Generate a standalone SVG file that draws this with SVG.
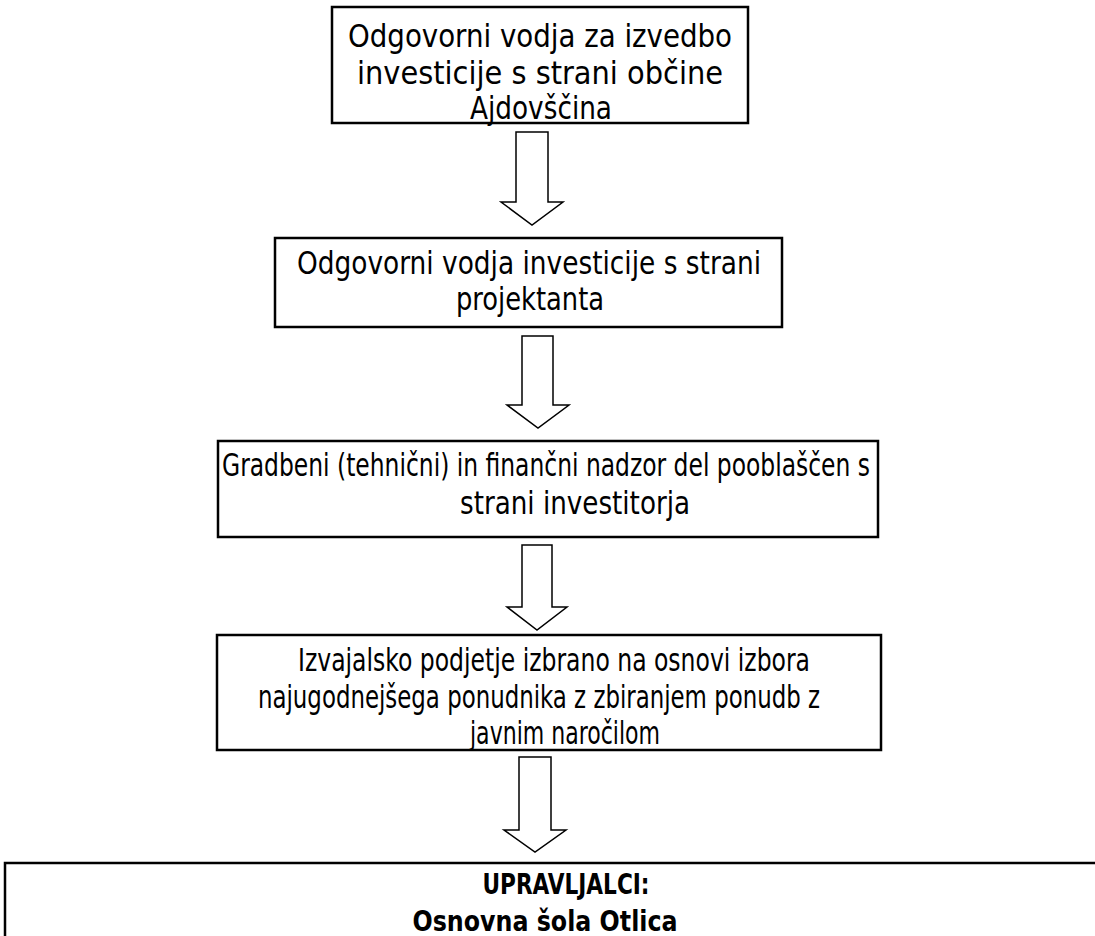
<svg xmlns="http://www.w3.org/2000/svg" width="1095" height="936" viewBox="0 0 1095 936">
<style>
.box{fill:#fff;stroke:#000;stroke-width:2.5}
.arr{fill:#fff;stroke:#000;stroke-width:1.5;stroke-linejoin:miter}
.t{font-family:"DejaVu Sans Condensed","DejaVu Sans",Tahoma,sans-serif;font-size:32px;fill:#000;text-anchor:middle}
.b{font-weight:bold;font-size:29px}
</style>
<rect width="1095" height="936" fill="#fff"/>
<g id="n1">
<rect class="box" x="332" y="7" width="416" height="116"/>
<text class="t" x="540" y="47" textLength="384" lengthAdjust="spacingAndGlyphs">Odgovorni vodja za izvedbo</text>
<text class="t" x="540" y="84" textLength="366" lengthAdjust="spacingAndGlyphs">investicije s strani občine</text>
<text class="t" x="541" y="119" textLength="142" lengthAdjust="spacingAndGlyphs">Ajdovščina</text>
</g>
<g id="n2">
<rect class="box" x="275" y="238" width="507" height="89"/>
<text class="t" x="529" y="274" textLength="464" lengthAdjust="spacingAndGlyphs">Odgovorni vodja investicije s strani</text>
<text class="t" x="530" y="310" textLength="148" lengthAdjust="spacingAndGlyphs">projektanta</text>
</g>
<g id="n3">
<rect class="box" x="218" y="441" width="660" height="96"/>
<text class="t" x="546" y="476" textLength="648" lengthAdjust="spacingAndGlyphs">Gradbeni (tehnični) in finančni nadzor del pooblaščen s</text>
<text class="t" x="575" y="514" textLength="230" lengthAdjust="spacingAndGlyphs">strani investitorja</text>
</g>
<g id="n4">
<rect class="box" x="217" y="635" width="664" height="115"/>
<text class="t" x="554" y="671" textLength="512" lengthAdjust="spacingAndGlyphs">Izvajalsko podjetje izbrano na osnovi izbora</text>
<text class="t" x="539" y="708" textLength="562" lengthAdjust="spacingAndGlyphs">najugodnejšega ponudnika z zbiranjem ponudb z</text>
<text class="t" x="565" y="744" textLength="190" lengthAdjust="spacingAndGlyphs">javnim naročilom</text>
</g>
<g id="n5">
<rect class="box" x="5" y="863" width="1100" height="100"/>
<text class="t b" x="566" y="894" textLength="167" lengthAdjust="spacingAndGlyphs">UPRAVLJALCI:</text>
<text class="t b" x="545" y="931" textLength="265" lengthAdjust="spacingAndGlyphs">Osnovna šola Otlica</text>
</g>
<g id="connectors">
<path class="arr" d="M516,132 H548 V202 H563 L532,225 L501,202 H516 Z"/>
<path class="arr" d="M522,336 H553 V405 H569 L538,428 L507,405 H522 Z"/>
<path class="arr" d="M522,545 H552 V607 H567 L537,630 L507,607 H522 Z"/>
<path class="arr" d="M519,757 H551 V830 H566 L535,852 L504,830 H519 Z"/>
</g>
</svg>
